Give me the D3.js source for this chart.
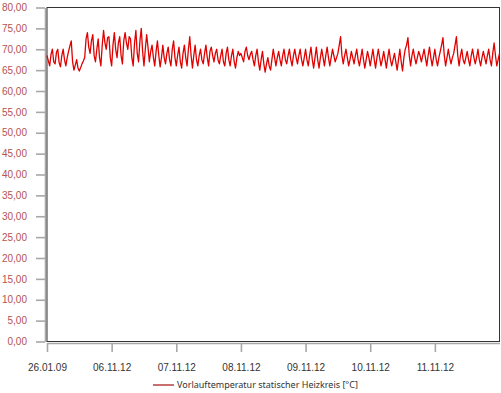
<!DOCTYPE html>
<html>
<head>
<meta charset="utf-8">
<script src="https://cdn.jsdelivr.net/npm/d3@7"></script>
<style>
    body { margin: 0; background: #fff; }
    svg { display: block; font-family: "Noto Sans", sans-serif; }
</style>
</head>
<body>
<svg id="chart" width="501" height="393"></svg>
<script>
// half-hourly values, one array per day (05.11.12 .. 11.11.12)
const day05 = [68.5, 67.2, 66, 68.8, 70, 67, 66.5, 69.2, 70, 66.8, 65.8, 68.5, 70, 67.5, 66, 68, 69.5, 70.8, 72, 67, 65, 66.2, 67.5, 65.5,
    64.8, 65.6, 66.5, 67.2, 68, 72.5, 74, 70.5, 69, 72, 73.5, 68.5, 67, 70, 72.5, 68, 66, 71, 74.5, 71.5, 70, 72.8, 73, 68];
const day06 = [66, 71, 74, 70, 68, 71.5, 73, 68.5, 66.5, 72, 74, 71.5, 70, 73, 72.5, 68, 66, 71.5, 74.5, 69, 67, 72, 75, 69.5,
    66, 70, 73.5, 70.5, 67, 69.5, 71, 68, 66, 69.5, 72, 68.5, 65.8, 68, 71, 68, 66.5, 69, 70.5, 67.5, 66, 70, 72, 68];
const day07 = [66, 68.5, 70.5, 67, 65.5, 69, 71, 68, 66, 70, 73, 68.5, 65.5, 68.5, 71, 67.5, 66, 68.5, 70, 67.5, 66.5, 69, 71, 68,
    66, 69.5, 70.5, 68.5, 67, 69, 70, 67.5, 66.5, 68.5, 70, 67, 66, 69, 70.5, 67.5, 66, 68.5, 70, 67, 65.5, 68, 69.5, 68.5];
const day08 = [69, 68, 67, 69.5, 70.5, 68.5, 67.5, 68.8, 69.5, 67.5, 66, 68.5, 70, 67, 65, 67.5, 69.5, 66.5, 64.5, 66.5, 68, 66, 65, 67.5,
    70, 68, 66, 68, 69.5, 67.5, 66, 68.5, 70, 67.5, 66.5, 68.5, 70, 67.5, 66, 68.5, 70, 68, 66.5, 68.5, 70, 67.5, 66, 68];
const day09 = [70, 67.5, 66, 68.5, 70.5, 67.5, 65.5, 68, 70.5, 67.5, 65.5, 68, 70, 68, 66, 68.5, 70.5, 68, 66, 68, 70, 68.5, 67, 68,
    69, 71, 73, 68.5, 66.5, 68.5, 70, 68, 66, 67.5, 69.5, 68, 66.5, 68.5, 70, 67.5, 66, 68, 70, 67.5, 65.5, 67.5, 69.5, 68];
const day10 = [66, 68, 70, 67.5, 65.5, 68, 70, 68, 66, 67.5, 69.5, 67.5, 65.5, 68, 70, 67.5, 66, 67.5, 69, 67, 65, 67.5, 70, 67,
    64.8, 68, 70, 71, 72.8, 68.5, 66, 68.5, 70, 68, 66.5, 68, 69.5, 68.5, 67, 68.5, 70, 68, 66, 68.5, 70.5, 68, 66, 68];
const day11 = [70, 67.5, 66, 68, 69.5, 71, 72.8, 68.5, 66, 68, 70, 68, 66.5, 68, 69, 71, 73, 68.5, 66, 68.5, 70, 67.5, 66.5, 68,
    69.5, 67.5, 66, 68.5, 70, 68, 66.5, 68, 70, 67.5, 66, 68, 69.5, 68, 66.5, 68.5, 70, 67.5, 66, 69, 71.5, 68.5, 66, 67.5, 69];

const startTime = new Date(2012, 10, 5);
const endTime = new Date(2012, 10, 12);
const yTicks = d3.range(0, 81, 5);
const xTicks = d3.timeDay.range(startTime, endTime);
const firstLabel = "26.01.09";
const seriesName = "Vorlauftemperatur statischer Heizkreis [°C]";

const margin = {top: 7.5, right: 1.5, bottom: 51.5, left: 47};
const width = 501, height = 393;

const vorlauf = [].concat(day05, day06, day07, day08, day09, day10, day11);
const data = vorlauf.map((v, i) => ({t: d3.timeMinute.offset(startTime, i * 30), v: v}));

const svg = d3.select("#chart");

const x = d3.scaleTime()
    .domain([startTime, endTime])
    .range([margin.left, width - margin.right]);

const y = d3.scaleLinear()
    .domain([0, 80])
    .range([height - margin.bottom, margin.top]);

const fmt = d3.timeFormat("%d.%m.%y");

// y axis (gray, a little off the frame)
const yAxis = svg.append("g")
    .attr("transform", `translate(${margin.left - 2},0)`)
    .call(d3.axisLeft(y).tickValues(yTicks).tickSize(9).tickSizeOuter(0).tickPadding(9)
        .tickFormat(d => d3.format(".2f")(d).replace(".", ",")));
yAxis.selectAll("path, line").attr("stroke", "#a8a8a8").attr("stroke-width", 1.6);
yAxis.selectAll("text").attr("fill", "#b5524f").style("font-size", "10px");

// x axis
const xAxis = svg.append("g")
    .attr("transform", `translate(0,${height - margin.bottom + 1.5})`)
    .call(d3.axisBottom(x).tickValues(xTicks).tickSize(9).tickSizeOuter(0).tickPadding(12)
        .tickFormat((d, i) => i === 0 ? firstLabel : fmt(d)));
xAxis.selectAll("path, line").attr("stroke", "#a8a8a8").attr("stroke-width", 1.6);
xAxis.selectAll("text").attr("fill", "#333").style("font-size", "10px");

// frame
svg.append("rect")
    .attr("x", margin.left)
    .attr("y", margin.top)
    .attr("width", width - margin.left - margin.right)
    .attr("height", height - margin.top - margin.bottom)
    .attr("fill", "none")
    .attr("stroke", "#333")
    .attr("stroke-width", 1);

const line = d3.line()
    .x(d => x(d.t))
    .y(d => y(d.v));

svg.append("path")
    .datum(data)
    .attr("fill", "none")
    .attr("stroke", "#e00000")
    .attr("stroke-width", 1.3)
    .attr("stroke-linejoin", "round")
    .attr("d", line);

// legend
const legend = svg.append("g").attr("transform", "translate(153,385)");
legend.append("line")
    .attr("x1", 0).attr("x2", 21)
    .attr("stroke", "#c87070").attr("stroke-width", 2);
legend.append("text")
    .attr("x", 24).attr("dy", "0.35em")
    .attr("fill", "#333")
    .style("font-size", "9px")
    .text(seriesName);
</script>
</body>
</html>
